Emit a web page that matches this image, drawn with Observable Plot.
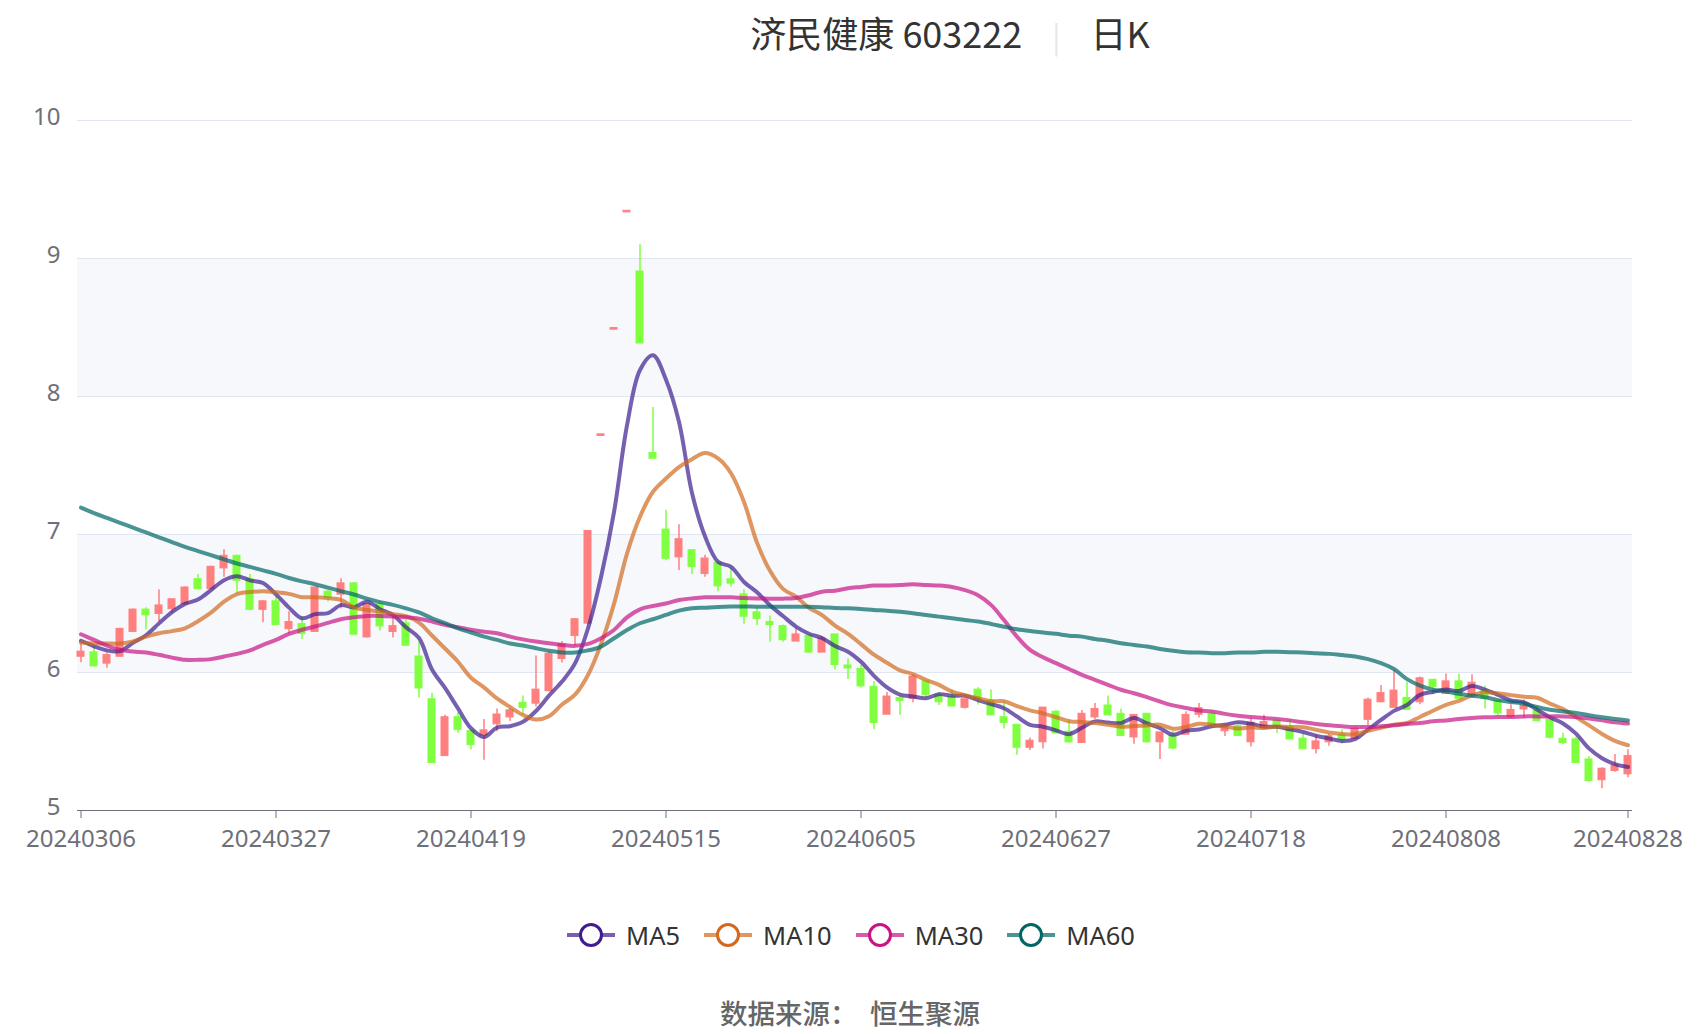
<!DOCTYPE html>
<html><head><meta charset="utf-8">
<script src="https://cdn.jsdelivr.net/npm/d3@7"></script>
<script src="https://cdn.jsdelivr.net/npm/@observablehq/plot@0.6"></script>
<style>
html,body{margin:0;padding:0;background:#fff;}
#wrap{position:relative;width:1700px;height:1034px;overflow:hidden;font-family:"Noto Sans","Noto Sans CJK SC",sans-serif;}
#title{position:absolute;left:450px;width:1000px;top:7px;text-align:center;font-size:36px;color:#333;font-family:"Noto Sans CJK SC","Noto Sans",sans-serif;line-height:50px;white-space:pre;}
#title .sep{color:#e6e6e6;font-size:30px;margin:0 30px;}
#chart{position:absolute;left:0;top:70px;}
#legend{position:absolute;left:0;width:1702px;top:918px;display:flex;justify-content:center;align-items:center;gap:24px;font-size:25.5px;color:#333;}
#legend .item{display:flex;align-items:center;gap:11px;}
#source{position:absolute;left:0;width:1700px;top:992px;text-align:center;font-size:27.5px;color:#666;font-weight:500;font-family:"Noto Sans CJK SC",sans-serif;white-space:pre;}
</style></head><body>
<div id="wrap">
  <div id="title"><span>济民健康 603222</span><span class="sep">|</span><span>日K</span></div>
  <div id="chart"></div>
  <div id="legend"></div>
  <div id="source">数据来源：  恒生聚源</div>
</div>
<script>
// ---- data ----
const dates = [
"20240306","20240307","20240308","20240311","20240312","20240313","20240314","20240315","20240318","20240319",
"20240320","20240321","20240322","20240325","20240326","20240327","20240328","20240329","20240401","20240402",
"20240403","20240408","20240409","20240410","20240411","20240412","20240415","20240416","20240417","20240418",
"20240419","20240422","20240423","20240424","20240425","20240426","20240429","20240430","20240506","20240507",
"20240508","20240509","20240510","20240513","20240514","20240515","20240516","20240517","20240520","20240521",
"20240522","20240523","20240524","20240527","20240528","20240529","20240530","20240531","20240603","20240604",
"20240605","20240606","20240607","20240611","20240612","20240613","20240614","20240617","20240618","20240619",
"20240620","20240621","20240624","20240625","20240626","20240627","20240628","20240701","20240702","20240703",
"20240704","20240705","20240708","20240709","20240710","20240711","20240712","20240715","20240716","20240717",
"20240718","20240719","20240722","20240723","20240724","20240725","20240726","20240729","20240730","20240731",
"20240801","20240802","20240805","20240806","20240807","20240808","20240809","20240812","20240813","20240814",
"20240815","20240816","20240819","20240820","20240821","20240822","20240823","20240826","20240827","20240828"];
const tickLabels = ["20240306","20240327","20240419","20240515","20240605","20240627","20240718","20240808","20240828"];
const yTicks = [5,6,7,8,9,10];
const open = [
6.12,6.14,6.07,6.12,6.30,6.45,6.43,6.465,6.50,6.67,
6.61,6.76,6.84,6.67,6.46,6.51,6.32,6.345,6.30,6.58,
6.57,6.64,6.26,6.49,6.30,6.35,6.11,5.80,5.40,5.67,
5.57,5.55,5.63,5.68,5.775,5.78,5.87,6.104,6.27,6.36,
7.72,8.49,9.34,8.90,7.585,7.03,6.84,6.88,6.72,6.79,
6.67,6.56,6.43,6.36,6.33,6.23,6.26,6.15,6.27,6.045,
6.02,5.89,5.70,5.81,5.815,5.93,5.83,5.815,5.75,5.87,
5.79,5.67,5.615,5.46,5.50,5.71,5.565,5.495,5.68,5.755,
5.695,5.535,5.695,5.50,5.535,5.555,5.70,5.695,5.58,5.605,
5.50,5.60,5.645,5.60,5.515,5.45,5.50,5.543,5.526,5.663,
5.79,5.75,5.81,5.79,5.942,5.85,5.93,5.84,5.863,5.79,
5.682,5.738,5.718,5.653,5.514,5.51,5.364,5.225,5.292,5.268];
const high = [
6.21,6.19,6.14,6.32,6.46,6.47,6.60,6.53,6.62,6.71,
6.77,6.89,6.85,6.71,6.52,6.55,6.44,6.40,6.61,6.60,
6.68,6.65,6.50,6.51,6.40,6.38,6.22,5.85,5.69,5.71,
5.58,5.66,5.735,5.74,5.83,6.12,6.15,6.224,6.39,7.02,
7.72,8.49,9.34,9.10,7.92,7.175,7.07,6.89,6.85,6.80,
6.755,6.60,6.47,6.41,6.345,6.32,6.27,6.26,6.27,6.10,
6.055,5.935,5.855,5.83,5.985,5.935,5.855,5.875,5.80,5.89,
5.875,5.79,5.62,5.525,5.745,5.725,5.66,5.725,5.775,5.83,
5.735,5.69,5.70,5.565,5.575,5.715,5.775,5.72,5.62,5.62,
5.665,5.69,5.65,5.66,5.555,5.545,5.555,5.586,5.60,5.815,
5.905,6.015,5.93,5.967,5.95,5.99,5.99,5.983,5.90,5.79,
5.767,5.80,5.755,5.655,5.56,5.533,5.39,5.31,5.405,5.44];
const low = [
6.07,6.04,6.03,6.11,6.29,6.31,6.37,6.43,6.49,6.60,
6.60,6.69,6.57,6.45,6.36,6.34,6.28,6.24,6.30,6.51,
6.46,6.27,6.25,6.30,6.25,6.19,5.815,5.35,5.40,5.56,
5.44,5.365,5.57,5.645,5.69,5.75,5.86,6.068,6.19,6.35,
7.72,8.49,9.34,8.39,7.555,6.81,6.74,6.71,6.69,6.585,
6.62,6.35,6.34,6.22,6.22,6.23,6.14,6.15,6.02,5.95,
5.887,5.585,5.70,5.69,5.78,5.815,5.76,5.75,5.735,5.765,
5.687,5.59,5.40,5.435,5.445,5.555,5.485,5.49,5.66,5.69,
5.54,5.48,5.49,5.37,5.44,5.55,5.67,5.62,5.537,5.54,
5.46,5.585,5.56,5.52,5.45,5.41,5.465,5.48,5.52,5.615,
5.78,5.75,5.735,5.767,5.84,5.85,5.81,5.83,5.735,5.687,
5.67,5.67,5.645,5.52,5.478,5.35,5.205,5.157,5.277,5.237];
const close = [
6.145,6.05,6.12,6.31,6.45,6.42,6.48,6.525,6.61,6.61,
6.76,6.84,6.67,6.46,6.51,6.35,6.36,6.285,6.61,6.545,
6.64,6.28,6.49,6.34,6.33,6.20,5.89,5.35,5.67,5.59,
5.48,5.575,5.69,5.72,5.75,5.87,6.13,6.20,6.38,7.02,
7.72,8.49,9.34,8.39,7.555,6.83,6.96,6.77,6.82,6.63,
6.65,6.41,6.395,6.35,6.24,6.27,6.15,6.24,6.06,6.035,
5.905,5.64,5.82,5.80,5.965,5.84,5.79,5.76,5.80,5.81,
5.695,5.64,5.46,5.50,5.74,5.565,5.50,5.695,5.73,5.695,
5.545,5.687,5.50,5.56,5.455,5.687,5.735,5.62,5.61,5.545,
5.63,5.635,5.61,5.52,5.45,5.495,5.533,5.52,5.586,5.797,
5.845,5.863,5.735,5.952,5.90,5.93,5.815,5.92,5.815,5.71,
5.723,5.754,5.653,5.533,5.494,5.35,5.22,5.297,5.32,5.389];
const ma5 = [
6.23,6.19,6.16,6.155,6.215,6.27,6.356,6.437,6.497,6.529,
6.597,6.669,6.698,6.668,6.648,6.566,6.47,6.393,6.423,6.43,
6.488,6.472,6.513,6.459,6.416,6.328,6.25,6.022,5.888,5.74,
5.596,5.533,5.601,5.611,5.643,5.721,5.832,5.934,6.066,6.32,
6.69,7.162,7.79,8.192,8.299,8.121,7.815,7.301,6.987,6.802,
6.766,6.656,6.581,6.487,6.409,6.333,6.281,6.25,6.192,6.151,
6.078,5.976,5.892,5.84,5.826,5.813,5.843,5.831,5.831,5.80,
5.771,5.741,5.681,5.621,5.607,5.581,5.553,5.60,5.646,5.637,
5.633,5.67,5.631,5.597,5.549,5.578,5.587,5.611,5.621,5.639,
5.628,5.608,5.606,5.588,5.569,5.542,5.522,5.504,5.517,5.586,
5.656,5.722,5.765,5.838,5.859,5.876,5.866,5.903,5.876,5.838,
5.797,5.784,5.731,5.675,5.631,5.557,5.45,5.379,5.336,5.315];
const ma10 = [
6.217,6.21,6.21,6.21,6.225,6.26,6.285,6.30,6.32,6.372,
6.434,6.513,6.568,6.583,6.589,6.582,6.57,6.546,6.546,6.539,
6.527,6.471,6.453,6.441,6.423,6.408,6.361,6.268,6.174,6.078,
5.962,5.892,5.812,5.75,5.692,5.659,5.683,5.768,5.839,5.982,
6.206,6.497,6.862,7.129,7.31,7.406,7.489,7.546,7.59,7.551,
7.444,7.236,6.941,6.737,6.606,6.55,6.469,6.416,6.34,6.28,
6.206,6.129,6.071,6.016,5.989,5.946,5.91,5.862,5.836,5.813,
5.792,5.792,5.756,5.726,5.704,5.676,5.647,5.641,5.634,5.622,
5.607,5.612,5.616,5.622,5.593,5.605,5.629,5.621,5.609,5.594,
5.603,5.598,5.609,5.605,5.604,5.585,5.565,5.555,5.552,5.578,
5.599,5.622,5.634,5.678,5.723,5.766,5.794,5.834,5.857,5.849,
5.836,5.825,5.817,5.775,5.735,5.677,5.617,5.555,5.505,5.473];
const ma30 = [
6.277,6.236,6.195,6.164,6.152,6.145,6.128,6.108,6.092,6.092,
6.097,6.116,6.135,6.16,6.20,6.236,6.28,6.31,6.333,6.36,
6.386,6.40,6.41,6.41,6.405,6.40,6.39,6.37,6.345,6.328,
6.31,6.296,6.285,6.26,6.24,6.224,6.212,6.20,6.193,6.207,
6.248,6.308,6.40,6.458,6.482,6.50,6.525,6.537,6.545,6.545,
6.545,6.54,6.537,6.535,6.535,6.54,6.56,6.585,6.593,6.61,
6.62,6.63,6.63,6.634,6.64,6.634,6.63,6.62,6.597,6.56,
6.49,6.38,6.26,6.164,6.11,6.068,6.025,5.983,5.947,5.911,
5.875,5.85,5.822,5.79,5.762,5.743,5.725,5.718,5.70,5.687,
5.678,5.67,5.663,5.653,5.639,5.627,5.617,5.61,5.605,5.605,
5.61,5.617,5.627,5.634,5.646,5.653,5.663,5.67,5.675,5.678,
5.678,5.682,5.682,5.682,5.682,5.678,5.666,5.653,5.639,5.63];
const ma60 = [
7.195,7.155,7.12,7.085,7.05,7.015,6.98,6.945,6.91,6.88,
6.85,6.82,6.79,6.765,6.74,6.715,6.685,6.66,6.64,6.615,
6.59,6.565,6.535,6.51,6.49,6.465,6.435,6.393,6.357,6.32,
6.29,6.26,6.236,6.21,6.195,6.176,6.157,6.145,6.145,6.16,
6.188,6.248,6.308,6.357,6.386,6.417,6.448,6.465,6.47,6.475,
6.478,6.478,6.477,6.477,6.477,6.477,6.477,6.473,6.467,6.465,
6.46,6.453,6.448,6.44,6.43,6.417,6.405,6.393,6.38,6.37,
6.352,6.332,6.313,6.30,6.29,6.28,6.267,6.26,6.243,6.23,
6.212,6.20,6.188,6.171,6.157,6.147,6.145,6.14,6.14,6.145,
6.145,6.15,6.15,6.147,6.145,6.14,6.135,6.126,6.116,6.097,
6.068,6.025,5.952,5.905,5.875,5.863,5.846,5.832,5.82,5.80,
5.786,5.774,5.75,5.73,5.718,5.707,5.69,5.675,5.663,5.653];
const seriesNames = ["MA5","MA10","MA30","MA60"];
const seriesDark = ["#3d1d8f","#d2691e","#c71585","#006666"];
const upColor = "#ff7f7f", downColor = "#80ff40";
const bandsShaded = [{y1:6,y2:7},{y1:8,y2:9}];

// ---- build ----
const rows = dates.map((d,i)=>({
  date:d, open:open[i], high:high[i], low:low[i], close:close[i],
  up: close[i] > open[i] || (close[i] === open[i] && (i === 0 || close[i] >= close[i-1]))
}));
const maRows = [];
[ma5,ma10,ma30,ma60].forEach((arr,k)=>arr.forEach((v,i)=>maRows.push({date:dates[i], v, s:seriesNames[k]})));

const W = 1700, H = 800, left = 77, right = 1632;
const step = (right-left)/(dates.length-1);
const col = d => d.up ? upColor : downColor;

const plot = Plot.plot({
  width: W, height: H,
  marginLeft: left, marginRight: W-right, marginTop: 50, marginBottom: 60,
  style: {fontFamily: '"Noto Sans","Noto Sans CJK SC",sans-serif', background: "transparent", overflow: "visible"},
  x: {type:"band", domain: dates, range:[left-step/2, right+step/2], paddingInner:0.46, paddingOuter:0.23, align:0.5},
  y: {domain:[5,10]},
  marks: [
    Plot.rect(bandsShaded, {y1:"y1", y2:"y2", fill:"#f6f8fc"}),
    Plot.ruleY(yTicks, {stroke:"#e0e6f1", strokeWidth:1.2}),
    Plot.ruleY([5], {stroke:"#6e7079", strokeWidth:1.2}),
    Plot.axisY({ticks: yTicks, tickFormat: d => String(d), tickSize:0, tickPadding:17, dy:-3, fontSize:24, fill:"#6e7079", label:null}),
    Plot.axisX({ticks: tickLabels, tickSize:8, tickPadding:11, fontSize:24, fill:"#6e7079", stroke:"#6e7079", label:null}),
    Plot.ruleX(rows, {x:"date", y1:"low", y2:"high", stroke: col, strokeWidth:1.5}),
    Plot.barY(rows, {x:"date", y1:"open", y2:"close", fill: col, stroke: col, strokeWidth:1, insetTop:-0.8, insetBottom:-0.8}),
    Plot.line(maRows, {x:"date", y:"v", z:"s", stroke: d => seriesDark[seriesNames.indexOf(d.s)], strokeOpacity:0.7, strokeWidth:4, curve:"catmull-rom"})
  ]
});
document.getElementById("chart").appendChild(plot);

// legend
const lg = document.getElementById("legend");
seriesNames.forEach((n,k)=>{
  const it = document.createElement("div"); it.className="item";
  it.innerHTML = `<svg width="48" height="28" viewBox="0 0 48 28"><line x1="0" y1="14" x2="48" y2="14" stroke="${seriesDark[k]}" stroke-opacity="0.7" stroke-width="4"/><circle cx="24" cy="14" r="10.5" fill="#fff" stroke="${seriesDark[k]}" stroke-width="3"/></svg><span>${n}</span>`;
  lg.appendChild(it);
});
</script>
</body></html>
